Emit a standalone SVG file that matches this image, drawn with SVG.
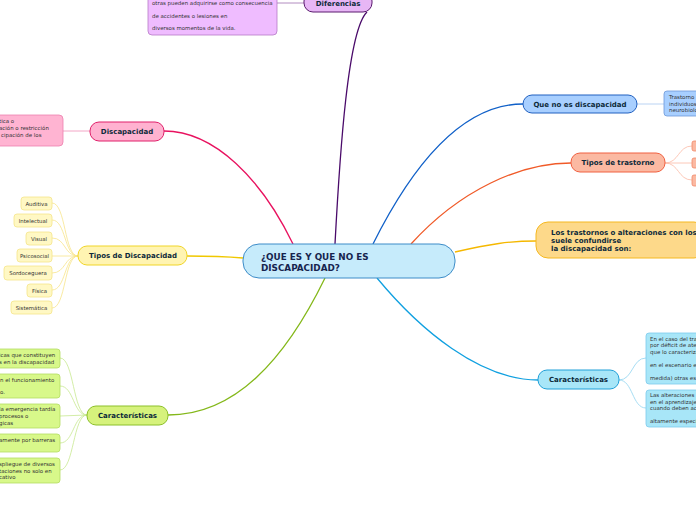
<svg xmlns="http://www.w3.org/2000/svg" width="696" height="520" viewBox="0 0 696 520">
<style>
.lbl{font-family:"DejaVu Sans",Verdana,sans-serif;font-weight:bold;fill:#0d2a3a;}
.sm{font-family:"DejaVu Sans",Verdana,sans-serif;font-size:5.45px;fill:#333;}
.it{font-family:"DejaVu Sans",Verdana,sans-serif;font-size:5.4px;fill:#333;text-anchor:middle;}
.c{fill:none;stroke-width:1.3;}
.s{fill:none;stroke-width:0.8;}
</style>
<rect width="696" height="520" fill="#ffffff"/>
<g id="connectors">
<path class="c" stroke="#4a0a6a" d="M335,244 C340,150 348,30 367,12"/>
<path class="c" stroke="#e8125f" d="M293,244 C262,180 215,131 164,131"/>
<path class="c" stroke="#f0c800" d="M243,258 C220,256 205,256 187,256"/>
<path class="c" stroke="#84b81a" d="M325,278 C285,360 235,415 168,415"/>
<path class="c" stroke="#1060c8" d="M373,244 C410,170 460,104 523,104"/>
<path class="c" stroke="#f05a28" d="M411,244 C460,190 520,163 571,163"/>
<path class="c" stroke="#f5b800" d="M455,252 C490,244 510,241 536,241"/>
<path class="c" stroke="#10a0e0" d="M377,278 C420,330 480,380 538,380"/>
<path class="s" stroke="#a070b0" d="M277,3 L304,3"/>
<path class="s" stroke="#f090b8" d="M63,131 L90,131"/>
<g stroke="#f8e48a">
<path class="s" d="M52,203 C66,203 64,256 78,256"/>
<path class="s" d="M52,220 C66,220 64,256 78,256"/>
<path class="s" d="M52,238 C66,238 64,256 78,256"/>
<path class="s" d="M52,256 L78,256"/>
<path class="s" d="M52,273 C66,273 64,256 78,256"/>
<path class="s" d="M52,290 C66,290 64,256 78,256"/>
<path class="s" d="M52,308 C66,308 64,256 78,256"/>
</g>
<g stroke="#c8e890">
<path class="s" d="M60,358 C74,358 73,415 87,415"/>
<path class="s" d="M60,386 C74,386 73,415 87,415"/>
<path class="s" d="M60,416 L87,415"/>
<path class="s" d="M60,443 C74,443 73,415 87,415"/>
<path class="s" d="M60,470 C74,470 73,415 87,415"/>
</g>
<path class="s" stroke="#a8c8f0" d="M637,104 L664,104"/>
<g stroke="#fbbaa6">
<path class="s" d="M665,163 C679,163 678,146 692,146"/>
<path class="s" d="M665,163 L692,163"/>
<path class="s" d="M665,163 C679,163 678,180 692,180"/>
</g>
<g stroke="#90d4f0">
<path class="s" d="M619,380 C633,380 632,358 646,358"/>
<path class="s" d="M619,380 C633,380 632,408 646,408"/>
</g>
</g>
<g id="center">
<rect x="243" y="244" width="212" height="34" rx="16" fill="#c6ebfb" stroke="#3d8cc8" stroke-width="1"/>
<text class="lbl" font-size="8.8" x="261" y="259.5" style="fill:#16244e">¿QUE ES Y QUE NO ES</text>
<text class="lbl" font-size="8.8" x="261" y="270.5" style="fill:#16244e">DISCAPACIDAD?</text>
</g>
<g id="diferencias">
<rect x="304" y="-8" width="68" height="20" rx="9" fill="#e7b6f5" stroke="#5a1a6e" stroke-width="1"/>
<text class="lbl" font-size="7" x="338" y="6" text-anchor="middle">Diferencias</text>
</g>
<g id="diferencias-text">
<rect x="148" y="-10" width="129" height="45" rx="4" fill="#efbcff" stroke="#b67ac6" stroke-width="0.8"/>
<text class="sm" x="152" y="5">otras pueden adquirirse como consecuencia</text>
<text class="sm" x="152" y="18">de accidentes o lesiones en</text>
<text class="sm" x="152" y="30">diversos momentos de la vida.</text>
</g>
<g id="discapacidad">
<rect x="90" y="122" width="74" height="19" rx="9" fill="#ffb2d0" stroke="#e0206a" stroke-width="1"/>
<text class="lbl" font-size="7" x="127" y="134" text-anchor="middle">Discapacidad</text>
</g>
<g id="discapacidad-text">
<rect x="-10" y="115" width="73" height="31" rx="4" fill="#ffb4d2" stroke="#ec80ae" stroke-width="0.8"/>
<text class="sm" x="-1" y="123">tica o</text>
<text class="sm" x="-1" y="130">ación o restricción</text>
<text class="sm" x="1" y="137">cipación de los</text>
</g>
<g id="tipos-discapacidad">
<rect x="78" y="246" width="109" height="19" rx="9" fill="#fff4b2" stroke="#f0d528" stroke-width="1"/>
<text class="lbl" font-size="7" x="133" y="258" text-anchor="middle">Tipos de Discapacidad</text>
</g>
<g id="auditiva"><rect x="21" y="197" width="31" height="13" rx="3" fill="#fff8c4" stroke="#f5e48a" stroke-width="0.8"/><text class="it" x="36.5" y="205.5">Auditiva</text></g>
<g id="intelectual"><rect x="14" y="214" width="38" height="13" rx="3" fill="#fff8c4" stroke="#f5e48a" stroke-width="0.8"/><text class="it" x="33" y="222.5">Intelectual</text></g>
<g id="visual"><rect x="26" y="232" width="26" height="13" rx="3" fill="#fff8c4" stroke="#f5e48a" stroke-width="0.8"/><text class="it" x="39" y="240.5">Visual</text></g>
<g id="psicosocial"><rect x="17" y="249" width="35" height="13" rx="3" fill="#fff8c4" stroke="#f5e48a" stroke-width="0.8"/><text class="it" x="34.5" y="257.5">Psicosocial</text></g>
<g id="sordoceguera"><rect x="4" y="266" width="48" height="14" rx="3" fill="#fff8c4" stroke="#f5e48a" stroke-width="0.8"/><text class="it" x="28" y="275">Sordoceguera</text></g>
<g id="fisica"><rect x="27" y="284" width="25" height="13" rx="3" fill="#fff8c4" stroke="#f5e48a" stroke-width="0.8"/><text class="it" x="39.5" y="292.5">Física</text></g>
<g id="sistematica"><rect x="11" y="301" width="41" height="13" rx="3" fill="#fff8c4" stroke="#f5e48a" stroke-width="0.8"/><text class="it" x="31.5" y="309.5">Sistemática</text></g>
<g id="caracteristicas-left">
<rect x="87" y="406" width="81" height="19" rx="9" fill="#d6f27c" stroke="#8cc02a" stroke-width="1"/>
<text class="lbl" font-size="7" x="127.5" y="418" text-anchor="middle">Características</text>
</g>
<g id="cl1"><rect x="-10" y="349" width="70" height="19" rx="3" fill="#d8f88a" stroke="#b4dc62" stroke-width="0.8"/>
<text class="sm" x="-1" y="357">icas que constituyen</text><text class="sm" x="-1" y="364">s en la discapacidad</text></g>
<g id="cl2"><rect x="-10" y="374" width="70" height="24" rx="3" fill="#d8f88a" stroke="#b4dc62" stroke-width="0.8"/>
<text class="sm" x="0" y="382">n el funcionamiento</text><text class="sm" x="0" y="394">o.</text></g>
<g id="cl3"><rect x="-10" y="404" width="70" height="24" rx="3" fill="#d8f88a" stroke="#b4dc62" stroke-width="0.8"/>
<text class="sm" x="-1" y="411">la emergencia tardía</text><text class="sm" x="-1" y="418"> procesos o</text><text class="sm" x="-1" y="425">gicas</text></g>
<g id="cl4"><rect x="-10" y="434" width="70" height="18" rx="3" fill="#d8f88a" stroke="#b4dc62" stroke-width="0.8"/>
<text class="sm" x="-1" y="442">amente por barreras</text></g>
<g id="cl5"><rect x="-10" y="458" width="70" height="25" rx="3" fill="#d8f88a" stroke="#b4dc62" stroke-width="0.8"/>
<text class="sm" x="-1" y="466">spliegue de diversos</text><text class="sm" x="-1" y="472.5">taciones no solo en</text><text class="sm" x="-1" y="479">cativo</text></g>
<g id="que-no-es">
<rect x="523" y="95" width="114" height="18" rx="9" fill="#a8cfff" stroke="#2060c0" stroke-width="1"/>
<text class="lbl" font-size="7" x="580" y="106.5" text-anchor="middle">Que no es discapacidad</text>
</g>
<g id="que-no-es-text">
<rect x="664" y="91" width="40" height="25" rx="3" fill="#a8cfff" stroke="#6c98d8" stroke-width="0.8"/>
<text class="sm" x="669" y="99">Trastorno</text><text class="sm" x="669" y="105.5">individuos</text><text class="sm" x="669" y="112">neurobiolo</text>
</g>
<g id="tipos-trastorno">
<rect x="571" y="153" width="94" height="19" rx="9" fill="#fbb9a2" stroke="#f06040" stroke-width="1"/>
<text class="lbl" font-size="7" x="618" y="165" text-anchor="middle">Tipos de trastorno</text>
</g>
<g id="tt1"><rect x="692" y="141" width="10" height="10" rx="2" fill="#fbb9a2" stroke="#f08868" stroke-width="0.8"/></g>
<g id="tt2"><rect x="692" y="158" width="10" height="10" rx="2" fill="#fbb9a2" stroke="#f08868" stroke-width="0.8"/></g>
<g id="tt3"><rect x="692" y="175" width="10" height="11" rx="2" fill="#fbb9a2" stroke="#f08868" stroke-width="0.8"/></g>
<g id="trastornos-confundirse">
<rect x="536" y="222" width="170" height="36" rx="12" fill="#fdd98a" stroke="#f5b820" stroke-width="1"/>
<text class="lbl" font-size="7" x="551" y="234.5">Los trastornos o alteraciones con los</text>
<text class="lbl" font-size="7" x="551" y="242.5">suele confundirse</text>
<text class="lbl" font-size="7" x="551" y="250.5">la discapacidad son:</text>
</g>
<g id="caracteristicas-right">
<rect x="538" y="370" width="81" height="19" rx="9" fill="#a8e6f8" stroke="#20a0d8" stroke-width="1"/>
<text class="lbl" font-size="7" x="578.5" y="382" text-anchor="middle">Características</text>
</g>
<g id="cr1"><rect x="646" y="333" width="56" height="51" rx="3" fill="#a8e6f8" stroke="#7ccaec" stroke-width="0.8"/>
<text class="sm" x="650" y="341">En el caso del tra</text><text class="sm" x="650" y="347">por déficit de ate</text><text class="sm" x="650" y="353.5">que lo caracteriza</text><text class="sm" x="650" y="367">en el escenario e</text><text class="sm" x="650" y="380">medida) otras es</text></g>
<g id="cr2"><rect x="646" y="390" width="56" height="37" rx="3" fill="#a8e6f8" stroke="#7ccaec" stroke-width="0.8"/>
<text class="sm" x="650" y="397">Las alteraciones</text><text class="sm" x="650" y="403.5">en el aprendizaje</text><text class="sm" x="650" y="409.5">cuando deben ac</text><text class="sm" x="650" y="422.5">altamente especi</text></g>
</svg>
